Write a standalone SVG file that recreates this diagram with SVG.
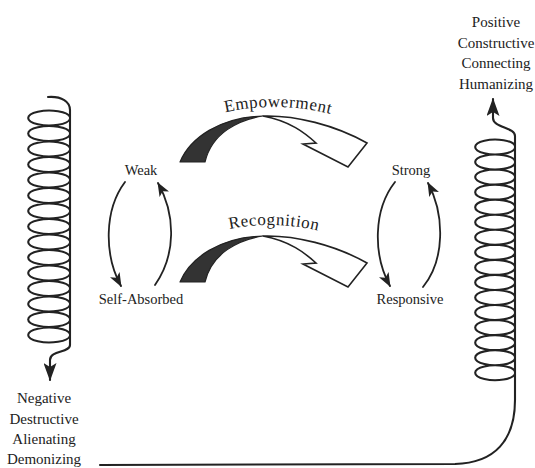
<svg xmlns="http://www.w3.org/2000/svg" width="535" height="468" viewBox="0 0 535 468">
<defs>
<style>
.t{font-family:"Liberation Serif","DejaVu Serif",serif;fill:#222;text-anchor:middle}
.o{font-size:15px}
.i{font-size:14.5px}
.a{font-size:17px;letter-spacing:0.6px}
.sp{fill:none;stroke:#222;stroke-width:2.1;stroke-linejoin:round;stroke-linecap:round}
.cv{fill:none;stroke:#222;stroke-width:1.8;stroke-linecap:round}
.dark{fill:#333;stroke:#222;stroke-width:1.2;stroke-linejoin:round}
.white{fill:#fff;stroke:#222;stroke-width:1.6;stroke-linejoin:miter}
</style>
<marker id="big" viewBox="0 0 18 13" markerWidth="18" markerHeight="13" refX="17" refY="6.5" orient="auto" markerUnits="userSpaceOnUse">
<path d="M0,0 L18,6.5 L0,13 L4,6.5 Z" fill="#222"/>
</marker>
<marker id="sm" viewBox="0 0 14 11" markerWidth="14" markerHeight="11" refX="13" refY="5.5" orient="auto" markerUnits="userSpaceOnUse">
<path d="M0,0 L14,5.5 L0,11 L3.5,5.5 Z" fill="#222"/>
</marker>
<path id="bigArrowDark" d="M180,162 C190,138 220,117 263,116 C238,120 212,133 205,162 Z"/>
<path id="bigArrowWhite" d="M263,116 C295,115 335,125 367,143 L348,167 L303,144 L316,143 C305,133 290,121 263,116 Z"/>
<path id="arcEmp" d="M218,114 Q277,99 338,116"/>
<path id="arcRec" d="M225,230 Q273,219 323,232"/>
</defs>
<rect width="535" height="468" fill="#fff"/>

<g id="connectors">
<path id="spring-negative" class="sp" marker-end="url(#big)" d="M48,97 C62,96 70,102 70,110 L70,119 A21 7.5 0 1 1 70,117 L70,134.5 A21 7.5 0 1 1 70,132.5 L70,150 A21 7.5 0 1 1 70,148 L70,165.5 A21 7.5 0 1 1 70,163.5 L70,181 A21 7.5 0 1 1 70,179 L70,196.5 A21 7.5 0 1 1 70,194.5 L70,212 A21 7.5 0 1 1 70,210 L70,227.5 A21 7.5 0 1 1 70,225.5 L70,243 A21 7.5 0 1 1 70,241 L70,258.5 A21 7.5 0 1 1 70,256.5 L70,274 A21 7.5 0 1 1 70,272 L70,289.5 A21 7.5 0 1 1 70,287.5 L70,305 A21 7.5 0 1 1 70,303 L70,320.5 A21 7.5 0 1 1 70,318.5 L70,336 A21 7.5 0 1 1 70,334 L70,345 C70,353 50,350 50,360 L50,380"/>
<path id="spring-positive" class="sp" marker-end="url(#big)" d="M100,465 L455,464 C495,463 515,440 515,400 L515,371.75 A20 7.5 0 1 0 515,373.75 L515,356.7 A20 7.5 0 1 0 515,358.7 L515,341.65 A20 7.5 0 1 0 515,343.65 L515,326.6 A20 7.5 0 1 0 515,328.6 L515,311.55 A20 7.5 0 1 0 515,313.55 L515,296.5 A20 7.5 0 1 0 515,298.5 L515,281.45 A20 7.5 0 1 0 515,283.45 L515,266.4 A20 7.5 0 1 0 515,268.4 L515,251.35 A20 7.5 0 1 0 515,253.35 L515,236.3 A20 7.5 0 1 0 515,238.3 L515,221.25 A20 7.5 0 1 0 515,223.25 L515,206.2 A20 7.5 0 1 0 515,208.2 L515,191.15 A20 7.5 0 1 0 515,193.15 L515,176.1 A20 7.5 0 1 0 515,178.1 L515,161.05 A20 7.5 0 1 0 515,163.05 L515,146 A20 7.5 0 1 0 515,148 L515,136 C515,127 493,128 493,118 L493,99"/>
<path id="weak-to-selfabsorbed" class="cv" marker-end="url(#sm)" d="M125,182 C104,210 104,255 121,286"/>
<path id="selfabsorbed-to-weak" class="cv" marker-end="url(#sm)" d="M155,285 C176,255 176,215 158,183"/>
<path id="strong-to-responsive" class="cv" marker-end="url(#sm)" d="M395,182 C373,210 373,255 390,286"/>
<path id="responsive-to-strong" class="cv" marker-end="url(#sm)" d="M423,287 C445,260 445,215 428,183"/>
</g>

<g id="empowerment">
<use href="#bigArrowDark" class="dark"/>
<use href="#bigArrowWhite" class="white"/>
<text class="t a"><textPath href="#arcEmp" startOffset="50%">Empowerment</textPath></text>
</g>
<g id="recognition">
<use href="#bigArrowDark" class="dark" transform="translate(0,120)"/>
<use href="#bigArrowWhite" class="white" transform="translate(0,120)"/>
<text class="t a"><textPath href="#arcRec" startOffset="50%">Recognition</textPath></text>
</g>

<g id="weak"><text class="t i" x="141" y="175">Weak</text></g>
<g id="self-absorbed"><text class="t i" x="141" y="304">Self-Absorbed</text></g>
<g id="strong"><text class="t i" x="411" y="175">Strong</text></g>
<g id="responsive"><text class="t i" x="410" y="304">Responsive</text></g>

<g id="negative-pole">
<text class="t o" x="44" y="403">Negative</text>
<text class="t o" x="44" y="423.5">Destructive</text>
<text class="t o" x="44" y="444">Alienating</text>
<text class="t o" x="44" y="464">Demonizing</text>
</g>
<g id="positive-pole">
<text class="t o" x="496" y="27">Positive</text>
<text class="t o" x="496" y="47.5">Constructive</text>
<text class="t o" x="496" y="68">Connecting</text>
<text class="t o" x="496" y="88.5">Humanizing</text>
</g>
</svg>
